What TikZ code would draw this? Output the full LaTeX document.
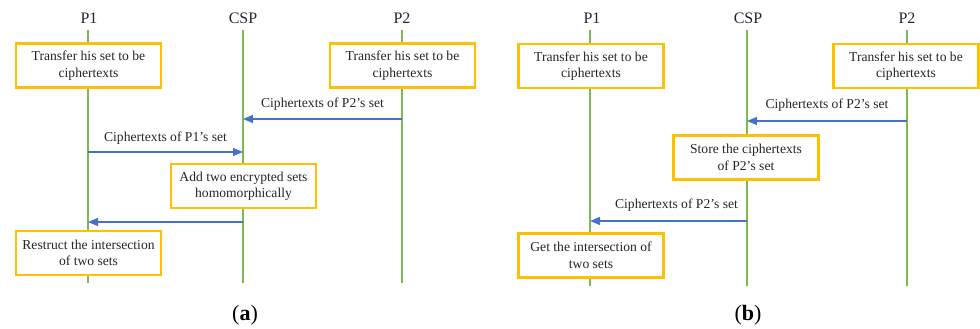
\documentclass[tikz,border=0pt]{standalone}
\usepackage{fontspec}
\setmainfont{Liberation Serif}
\usetikzlibrary{arrows.meta}
\definecolor{lifegreen}{HTML}{7DB955}
\definecolor{boxorange}{HTML}{FFC000}
\definecolor{msgblue}{HTML}{4472C4}
\definecolor{txt}{HTML}{262626}
\newcommand{\sq}{{\char39\relax}}
\tikzset{
  actor/.style={text=txt, font=\fontsize{16}{18}\selectfont, inner sep=0pt},
  lifeline/.style={draw=lifegreen, line width=1.4pt},
  stepbox/.style={draw=boxorange, line width=2.6pt, fill=white, text=txt,
    minimum width=145pt, minimum height=44pt, align=center, inner sep=2pt,
    font=\fontsize{13.6}{16.5}\selectfont},
  msg/.style={draw=msgblue, line width=1.3pt, -{Triangle[length=10pt,width=8pt]}},
  msglabel/.style={text=txt, font=\fontsize{13.6}{16}\selectfont, inner sep=0pt},
  caplabel/.style={text=black, font=\fontsize{22}{24}\selectfont, inner sep=0pt}
}
\begin{document}
\begin{tikzpicture}[x=1pt,y=-1pt]
\useasboundingbox (0,0) rectangle (980,329);
% ---------- panel (a) ----------
\node[actor] (aP1) at (89,18) {P1};
\node[actor] (aCSP) at (243,18) {CSP};
\node[actor] (aP2) at (402,18) {P2};
\coordinate (aP1t) at (88,30); \coordinate (aP1b) at (88,283);
\coordinate (aCt) at (243,30); \coordinate (aCb) at (243,283);
\coordinate (aP2t) at (402,30); \coordinate (aP2b) at (402,283);
\draw[lifeline] (aP1t) -- (aP1b);
\draw[lifeline] (aCt) -- (aCb);
\draw[lifeline] (aP2t) -- (aP2b);
\node[stepbox] (aB1) at (88.5,65.5) {Transfer his set to be\\ciphertexts};
\node[stepbox] (aB2) at (402.5,65.5) {Transfer his set to be\\ciphertexts};
\coordinate (am1s) at (402,119); \coordinate (am1e) at (243,119);
\draw[msg] (am1s) -- node[msglabel, above=8pt] (aL1) {Ciphertexts of P2\sq s set} (am1e);
\coordinate (am2s) at (88,152); \coordinate (am2e) at (243,152);
\draw[msg] (am2s) -- node[msglabel, above=7pt] (aL2) {Ciphertexts of P1\sq s set} (am2e);
\node[stepbox] (aB3) at (243.5,186) {Add two encrypted sets\\homomorphically};
\coordinate (am3s) at (243,222); \coordinate (am3e) at (88,222);
\draw[msg] (am3s) -- (am3e);
\node[stepbox] (aB4) at (88.5,253) {Restruct the intersection\\of two sets};
\node[caplabel] (capa) at (245,315) {(\textbf{a})};
% ---------- panel (b) ----------
\node[actor] (bP1) at (592,18) {P1};
\node[actor] (bCSP) at (748,18) {CSP};
\node[actor] (bP2) at (907,18) {P2};
\coordinate (bP1t) at (590,30); \coordinate (bP1b) at (590,286);
\coordinate (bCt) at (747,30); \coordinate (bCb) at (747,286);
\coordinate (bP2t) at (907,30); \coordinate (bP2b) at (907,286);
\draw[lifeline] (bP1t) -- (bP1b);
\draw[lifeline] (bCt) -- (bCb);
\draw[lifeline] (bP2t) -- (bP2b);
\node[stepbox] (bB1) at (591,66) {Transfer his set to be\\ciphertexts};
\node[stepbox] (bB2) at (906,66) {Transfer his set to be\\ciphertexts};
\coordinate (bm1s) at (907,121); \coordinate (bm1e) at (747,121);
\draw[msg] (bm1s) -- node[msglabel, above=9pt] (bL1) {Ciphertexts of P2\sq s set} (bm1e);
\node[stepbox] (bB3) at (746,157.5) {Store the ciphertexts\\of P2\sq s set};
\coordinate (bm2s) at (747,221); \coordinate (bm2e) at (590,221);
\draw[msg] (bm2s) -- node[msglabel, above=9pt, xshift=8pt] (bL2) {Ciphertexts of P2\sq s set} (bm2e);
\node[stepbox] (bB4) at (591,255.5) {Get the intersection of\\two sets};
\node[caplabel] (capb) at (748,315) {(\textbf{b})};
\end{tikzpicture}
\end{document}
